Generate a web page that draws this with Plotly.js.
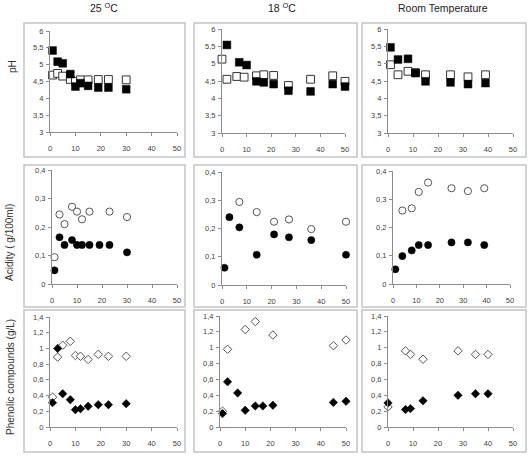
<!DOCTYPE html>
<html>
<head>
<meta charset="utf-8">
<script src="https://cdn.plot.ly/plotly-3.0.1.min.js"></script>
<style>
  html, body { margin: 0; padding: 0; background: #fff; }
  #chart { width: 529px; height: 457px; }
</style>
</head>
<body>
<div id="chart"></div>
<script>
// Column headings (storage temperature) and row measures
const columnTitles = ['25 <sup>O</sup>C', '18 <sup>O</sup>C', 'Room Temperature'];
const rowTitles = ['pH', 'Acidity ( g/100ml)', 'Phenolic compounds (g/L)'];

// ---- pH ----
const ph25FilledDays = [1, 3, 5, 8, 10, 12, 15, 19, 23, 30];
const ph25Filled     = [5.42, 5.09, 5.04, 4.72, 4.35, 4.45, 4.37, 4.32, 4.32, 4.27];
const ph25OpenDays   = [1, 3, 5, 8, 10, 12, 15, 19, 23, 30];
const ph25Open       = [4.69, 4.74, 4.66, 4.56, 4.50, 4.55, 4.55, 4.56, 4.56, 4.55];

const ph18FilledDays = [2, 7, 10, 14, 17, 21, 27, 36, 45, 50];
const ph18Filled     = [5.54, 5.04, 4.96, 4.49, 4.46, 4.41, 4.22, 4.20, 4.41, 4.34];
const ph18OpenDays   = [0, 2, 6, 9, 14, 17, 21, 27, 36, 45, 50];
const ph18Open       = [5.13, 4.55, 4.63, 4.61, 4.65, 4.68, 4.66, 4.37, 4.55, 4.65, 4.49];

const phRTFilledDays = [1, 4, 8, 11, 15, 25, 32, 39];
const phRTFilled     = [5.47, 5.12, 5.14, 4.73, 4.49, 4.46, 4.41, 4.44];
const phRTOpenDays   = [1, 4, 8, 11, 15, 25, 32, 39];
const phRTOpen       = [4.97, 4.68, 4.78, 4.74, 4.68, 4.68, 4.62, 4.68];

// ---- Acidity ----
const ac25FilledDays = [1, 3, 5, 8, 10, 12, 15, 19, 23, 30];
const ac25Filled     = [0.048, 0.164, 0.137, 0.154, 0.137, 0.137, 0.137, 0.137, 0.137, 0.111];
const ac25OpenDays   = [1, 3, 5, 8, 10, 12, 15, 23, 30];
const ac25Open       = [0.094, 0.244, 0.210, 0.271, 0.254, 0.227, 0.254, 0.254, 0.235];

const ac18FilledDays = [1, 3, 7, 14, 21, 27, 36, 50];
const ac18Filled     = [0.061, 0.240, 0.204, 0.107, 0.179, 0.169, 0.159, 0.107];
const ac18OpenDays   = [7, 14, 21, 27, 36, 50];
const ac18Open       = [0.294, 0.258, 0.224, 0.232, 0.198, 0.224];

const acRTFilledDays = [1, 4, 8, 11, 15, 25, 32, 39];
const acRTFilled     = [0.052, 0.099, 0.119, 0.138, 0.138, 0.147, 0.147, 0.138];
const acRTOpenDays   = [4, 8, 11, 15, 25, 32, 39];
const acRTOpen       = [0.260, 0.268, 0.326, 0.359, 0.339, 0.329, 0.339];

// ---- Phenolic compounds ----
const pc25FilledDays = [1, 3, 5, 8, 10, 12, 15, 19, 23, 30];
const pc25Filled     = [0.31, 1.00, 0.424, 0.348, 0.22, 0.233, 0.263, 0.284, 0.284, 0.297];
const pc25OpenDays   = [1, 3, 5, 8, 10, 12, 15, 19, 23, 30];
const pc25Open       = [0.38, 0.89, 1.04, 1.09, 0.91, 0.90, 0.86, 0.925, 0.90, 0.90];

const pc18FilledDays = [1, 3, 7, 10, 14, 17, 21, 45, 50];
const pc18Filled     = [0.169, 0.57, 0.43, 0.21, 0.266, 0.266, 0.274, 0.31, 0.325];
const pc18OpenDays   = [1, 3, 10, 14, 21, 45, 50];
const pc18Open       = [0.20, 0.98, 1.23, 1.33, 1.16, 1.025, 1.097];

const pcRTFilledDays = [0, 7, 9, 14, 28, 35, 40];
const pcRTFilled     = [0.304, 0.22, 0.232, 0.33, 0.40, 0.42, 0.42];
const pcRTOpenDays   = [0, 7, 9, 14, 28, 35, 40];
const pcRTOpen       = [0.253, 0.96, 0.915, 0.855, 0.96, 0.915, 0.915];

// Axis settings per row
const yRanges = [[3, 6], [0, 0.4], [0, 1.4]];
const yDticks = [0.5, 0.1, 0.2];
const symbols = ['square', 'circle', 'diamond'];
const markerSizes = [7.8, 7.2, 6.5];

const panels = [
  [ph25OpenDays, ph25Open, ph25FilledDays, ph25Filled],
  [ph18OpenDays, ph18Open, ph18FilledDays, ph18Filled],
  [phRTOpenDays, phRTOpen, phRTFilledDays, phRTFilled],
  [ac25OpenDays, ac25Open, ac25FilledDays, ac25Filled],
  [ac18OpenDays, ac18Open, ac18FilledDays, ac18Filled],
  [acRTOpenDays, acRTOpen, acRTFilledDays, acRTFilled],
  [pc25OpenDays, pc25Open, pc25FilledDays, pc25Filled],
  [pc18OpenDays, pc18Open, pc18FilledDays, pc18Filled],
  [pcRTOpenDays, pcRTOpen, pcRTFilledDays, pcRTFilled]
];

// Plot areas in pixels: [x0, x1, yTop, yBottom]
const W = 529, H = 457;
const plotPx = [
  [50, 177, 31, 132], [222, 345, 29, 133], [388, 513, 29, 133],
  [52, 177, 170, 284], [222, 346, 172, 285], [393, 510, 171, 284],
  [50, 177, 317, 427], [220, 346, 316, 427], [388, 513, 316, 427]
];
// Frames around each small chart: [x0, x1, yTop, yBottom]
const framePx = [];
const colFrames = [[24, 185], [194, 357], [362, 526]];
const rowFrames = [[23, 157], [165, 307], [310, 452]];
rowFrames.forEach(r => colFrames.forEach(c => framePx.push([c[0], c[1], r[0], r[1]])));

const axisGray = '#8c8c8c';
const tickFont = { family: 'Liberation Sans, Arial, sans-serif', size: 7.5, color: '#404040' };

const traces = [];
const layout = {
  width: W, height: H,
  margin: { l: 0, r: 0, t: 0, b: 0 },
  paper_bgcolor: '#ffffff',
  plot_bgcolor: '#ffffff',
  showlegend: false,
  separators: ', ',
  shapes: [],
  annotations: []
};

panels.forEach((p, i) => {
  const row = Math.floor(i / 3);
  const n = i + 1;
  const xa = 'x' + (n === 1 ? '' : n);
  const ya = 'y' + (n === 1 ? '' : n);
  const sym = symbols[row];
  const size = markerSizes[row];

  traces.push({
    type: 'scatter', mode: 'markers', x: p[0], y: p[1], xaxis: xa, yaxis: ya,
    cliponaxis: false, hoverinfo: 'x+y',
    marker: { symbol: sym, size: size, color: '#ffffff',
              line: { color: row === 0 ? '#333333' : '#555555', width: 1 } }
  });
  traces.push({
    type: 'scatter', mode: 'markers', x: p[2], y: p[3], xaxis: xa, yaxis: ya,
    cliponaxis: false, hoverinfo: 'x+y',
    marker: { symbol: sym, size: size, color: '#000000',
              line: { color: '#000000', width: 0.5 } }
  });

  const px = plotPx[i];
  const xKey = 'xaxis' + (n === 1 ? '' : n);
  const yKey = 'yaxis' + (n === 1 ? '' : n);
  layout[xKey] = {
    domain: [px[0] / W, px[1] / W], anchor: ya,
    range: [0, 50], dtick: 10, tick0: 0,
    showgrid: false, zeroline: false,
    showline: true, linecolor: axisGray, linewidth: 1,
    ticks: 'outside', ticklen: 3, tickcolor: axisGray, tickwidth: 1,
    ticklabelstandoff: 6,
    tickfont: tickFont, fixedrange: true
  };
  layout[yKey] = {
    domain: [1 - px[3] / H, 1 - px[2] / H], anchor: xa,
    range: yRanges[row], dtick: yDticks[row], tick0: 0,
    showgrid: false, zeroline: false,
    showline: true, linecolor: axisGray, linewidth: 1,
    ticks: 'outside', ticklen: 3, tickcolor: axisGray, tickwidth: 1,
    ticklabelstandoff: 1,
    tickfont: tickFont, fixedrange: true
  };

  const f = framePx[i];
  layout.shapes.push({
    type: 'rect', xref: 'paper', yref: 'paper',
    x0: f[0] / W, x1: f[1] / W, y0: 1 - f[3] / H, y1: 1 - f[2] / H,
    line: { color: '#c4c4c4', width: 1.5 }, fillcolor: 'rgba(0,0,0,0)', layer: 'below'
  });
});

// Column headings
const colCenters = [104, 282, 443];
columnTitles.forEach((t, k) => {
  layout.annotations.push({
    text: t, xref: 'paper', yref: 'paper', showarrow: false,
    x: colCenters[k] / W, y: 1 - 8 / H, xanchor: 'center', yanchor: 'middle',
    font: { family: 'Liberation Sans, Arial, sans-serif', size: 10.5, color: '#222222' }
  });
});

// Row headings (rotated)
const rowCenters = [[12, 67], [10, 243], [10, 377]];
rowTitles.forEach((t, k) => {
  layout.annotations.push({
    text: t, xref: 'paper', yref: 'paper', showarrow: false, textangle: -90,
    x: rowCenters[k][0] / W, y: 1 - rowCenters[k][1] / H, xanchor: 'center', yanchor: 'middle',
    font: { family: 'Liberation Sans, Arial, sans-serif', size: 10, color: '#333333' }
  });
});

Plotly.newPlot('chart', traces, layout, { staticPlot: true, displayModeBar: false });
</script>
</body>
</html>
